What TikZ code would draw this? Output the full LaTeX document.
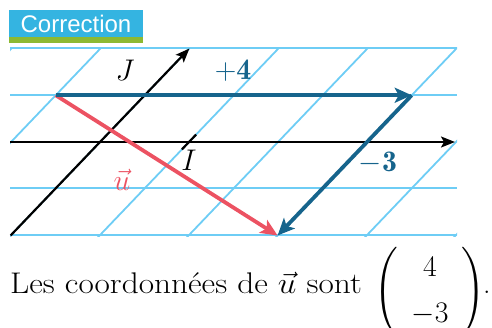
\documentclass[tikz,border=0pt]{standalone}
\usepackage{amsmath}
\usepackage{graphicx}
\usepackage{fontspec}
\newfontfamily\titlefont{Liberation Sans}
\usetikzlibrary{arrows.meta,calc}
\definecolor{gridblue}{RGB}{110,205,245}
\definecolor{vecblue}{RGB}{22,100,140}
\definecolor{vecred}{RGB}{236,82,98}
\definecolor{titleblue}{RGB}{52,180,225}
\definecolor{titlegreen}{RGB}{140,185,50}
\newcommand{\mylbl}[1]{\scalebox{1.2}{#1}}
\tikzset{
  gridline/.style={draw=gridblue, line width=1.8pt},
  axisline/.style={draw=black, line width=2.2pt, -{Stealth[length=14pt,width=11pt,inset=3pt]}},
  bluevec/.style={draw=vecblue, line width=3.8pt, -{Stealth[length=17pt,width=15pt,inset=4pt]}},
  redvec/.style={draw=vecred, line width=3.8pt, -{Stealth[length=17pt,width=15pt,inset=4pt]}},
  lbl/.style={font=\fontsize{24.88}{30}\selectfont, inner sep=0pt},
}
\begin{document}
\begin{tikzpicture}[x=1pt,y=-1pt]
\useasboundingbox (0,0) rectangle (492,327);
% basis
\coordinate (O) at (100,142);
\coordinate (vi) at (89,0);
\coordinate (vj) at (44.7,-46.75);
% horizontal grid lines
\foreach \yy in {48,95,188,235}{
  \draw[gridline] (10,\yy) -- (457,\yy);
}
% slanted grid lines
\begin{scope}
  \clip (10,47) rectangle (457,236);
  \foreach \k in {-4,...,5}{
    \draw[gridline] ($(O)+\k*(vi)-3*(vj)$) -- ($(O)+\k*(vi)+3*(vj)$);
  }
\end{scope}
% axes
\coordinate (xs) at (10,142);
\coordinate (xe) at (455,142);
\coordinate (js) at ($(O)-2*(vj)$);
\coordinate (je) at ($(O)+2*(vj)$);
\coordinate (I) at ($(O)+(vi)$);
\coordinate (It1) at ($(I)-0.16*(vj)$);
\coordinate (It2) at ($(I)+0.16*(vj)$);
\draw[axisline] (xs) -- (xe);
\draw[axisline] (js) -- (je);
\draw[draw=black, line width=2.2pt] (It1) -- (It2);
% vectors
\coordinate (A) at ($(O)-(vi)+(vj)$);
\coordinate (B) at ($(A)+4*(vi)$);
\coordinate (C) at ($(B)-3*(vj)$);
\draw[redvec] (A) -- (C);
\draw[bluevec] (A) -- (B);
\draw[bluevec] (B) -- (C);
% labels
\node[lbl] (Jl) at (125,70) {\mylbl{$J$}};
\node[lbl] (Il) at (189,160) {\mylbl{$I$}};
\node[lbl, text=vecblue] (plusfour) at (233,71) {\mylbl{$\mathbf{+4}$}};
\node[lbl, text=vecblue] (minusthree) at (378,163) {\mylbl{$\mathbf{-3}$}};
\node[lbl, text=vecred] (ul) at (122,180) {\mylbl{$\vec{u}$}};
% title
\node[fill=titleblue, text=white, minimum width=134pt, minimum height=27pt, inner sep=0pt,
      font=\titlefont\fontsize{24}{28}\selectfont] (title) at (76,23.5) {Correction};
\fill[titlegreen] (9,37) rectangle (143,43);
% bottom text
\node[lbl, anchor=base west] (txt) at (10,293) {\scalebox{1.34}[1.2]{Les coordonnées de $\vec{u}$ sont}};
\node[lbl] (vec) at (430,292) {\mylbl{$\left(\begin{array}{@{\hspace{11pt}}c@{\hspace{11pt}}}4\\[8pt]-3\end{array}\right)$}};
\node[lbl, anchor=base west] (dot) at (483,293) {\mylbl{.}};
\end{tikzpicture}
\end{document}
